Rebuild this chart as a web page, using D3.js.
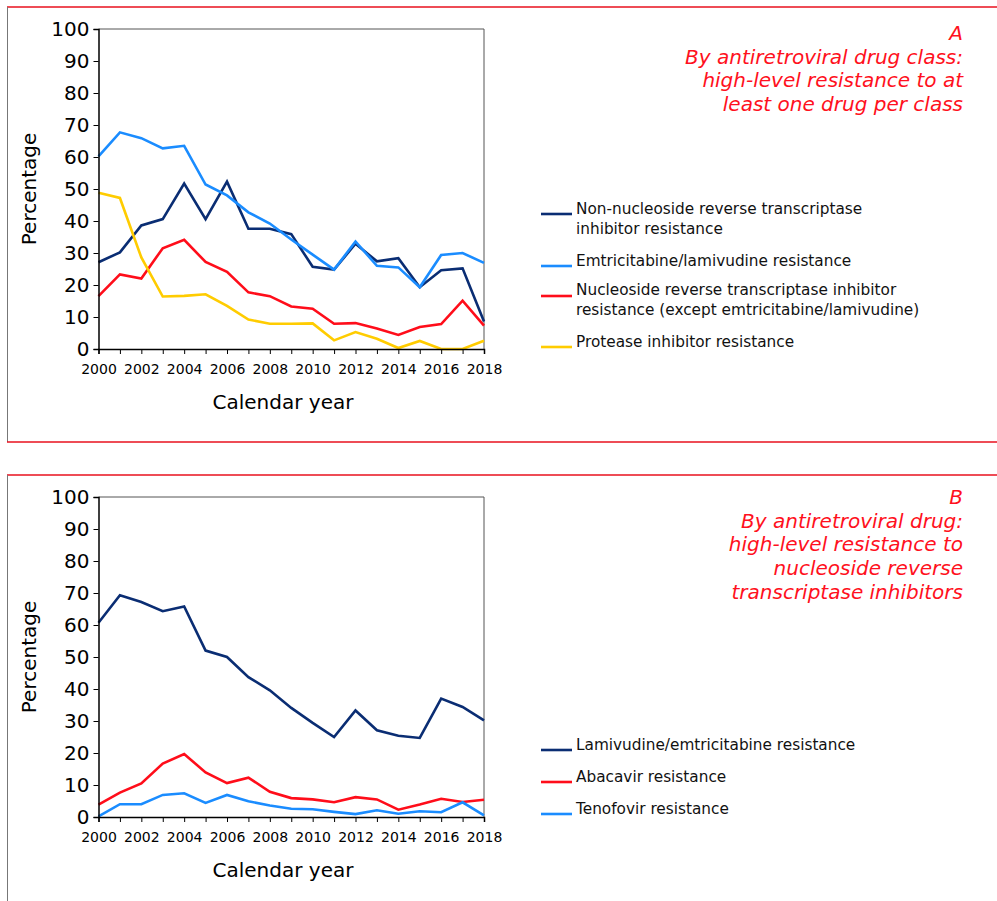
<!DOCTYPE html>
<html><head><meta charset="utf-8">
<script src="https://cdn.jsdelivr.net/npm/d3@7"></script>
<style>body{margin:0;background:#fff;} svg{display:block;font-family:"DejaVu Sans",Verdana,sans-serif;}</style>
</head><body>
<svg id="c" width="997" height="901"></svg>
<script>
const years = d3.range(2000, 2019);
const yTicks = [0,10,20,30,40,50,60,70,80,90,100];
const xTicks = [2000,2002,2004,2006,2008,2010,2012,2014,2016,2018];

// Panel A
const nnrtiA   = [27.1,30.2,38.6,40.6,51.7,40.6,52.3,37.6,37.6,35.9,25.7,24.8,32.9,27.4,28.4,19.3,24.6,25.2,8.6];
const emtricA  = [60.2,67.7,65.9,62.7,63.5,51.4,48.0,42.7,39.2,34.2,29.5,24.8,33.6,26.0,25.5,19.3,29.4,30.0,26.9];
const nrtiA    = [16.5,23.3,22.0,31.5,34.1,27.2,24.1,17.7,16.5,13.3,12.6,7.9,8.1,6.4,4.4,6.9,7.8,15.1,7.3];
const piA      = [48.8,47.2,28.6,16.4,16.6,17.1,13.5,9.2,7.9,7.9,8.0,2.7,5.3,3.2,0.3,2.5,0,0,2.6];
// Panel B
const lamB     = [60.7,69.3,67.2,64.3,65.8,52.0,50.0,43.7,39.6,34.1,29.4,25.0,33.3,27.1,25.4,24.7,37.0,34.4,30.2];
const abacB    = [3.9,7.6,10.5,16.7,19.7,13.9,10.6,12.3,7.9,5.9,5.5,4.6,6.2,5.5,2.3,3.9,5.7,4.7,5.4];
const tenoB    = [0.2,4.0,4.0,6.9,7.4,4.4,6.9,4.9,3.6,2.6,2.4,1.6,0.9,2.1,1.0,1.8,1.5,4.6,0.5];

const labelsA = [["Non-nucleoside reverse transcriptase","inhibitor resistance"],["Emtricitabine/lamivudine resistance"],["Nucleoside reverse transcriptase inhibitor","resistance (except emtricitabine/lamivudine)"],["Protease inhibitor resistance"]];
const labelsB = [["Lamivudine/emtricitabine resistance"],["Abacavir resistance"],["Tenofovir resistance"]];
const titleA = ["A","By antiretroviral drug class:","high-level resistance to at","least one drug per class"];
const titleB = ["B","By antiretroviral drug:","high-level resistance to","nucleoside reverse","transcriptase inhibitors"];

const NAVY="#0a2d73", SKY="#1a8cff", RED="#ff0d1a", YEL="#ffcc00";

const svg = d3.select("#c");

function panel(cfg){
  const g = svg.append("g");
  // frame
  g.append("line").attr("x1",7).attr("x2",997).attr("y1",cfg.frameTop).attr("y2",cfg.frameTop).attr("stroke","#e8101e").attr("stroke-width",1.5);
  g.append("line").attr("x1",7.5).attr("x2",7.5).attr("y1",cfg.frameTop).attr("y2",cfg.frameBot).attr("stroke","#777").attr("stroke-width",1);
  if(cfg.bottomLine) g.append("line").attr("x1",7).attr("x2",997).attr("y1",cfg.frameBot).attr("y2",cfg.frameBot).attr("stroke","#e8101e").attr("stroke-width",1.5);

  const x = d3.scaleLinear().domain([2000,2018]).range([98.5,484]);
  const y = d3.scaleLinear().domain([0,100]).range([cfg.bottom,cfg.top]);
  // plot box top/right
  g.append("path").attr("d",`M${x(2000)},${y(100)}H${x(2018)}V${y(0)}`).attr("fill","none").attr("stroke","#555").attr("stroke-width",1);

  const line = d3.line().x((d,i)=>x(years[i])).y(d=>y(d));
  cfg.series.forEach(s=>{
    g.append("path").datum(s.values).attr("d",line).attr("fill","none").attr("stroke",s.color).attr("stroke-width",2.6).attr("stroke-linejoin","miter");
  });

  const ya = g.append("g").attr("transform",`translate(${x(2000)},0)`)
    .call(d3.axisLeft(y).tickValues(yTicks).tickSize(5).tickPadding(4));
  ya.select(".domain").attr("stroke","#000").attr("stroke-width",1.5);
  ya.selectAll("line").attr("stroke","#000");
  ya.selectAll("text").attr("font-size",20).attr("fill","#000").attr("font-family","DejaVu Sans");
  const xa = g.append("g").attr("transform",`translate(0,${y(0)})`)
    .call(d3.axisBottom(x).tickValues(years).tickSize(5).tickPadding(9).tickFormat(d=> xTicks.includes(d)? d3.format("d")(d):""));
  xa.select(".domain").attr("stroke","#000").attr("stroke-width",1.5);
  xa.selectAll("line").attr("stroke","#000");
  xa.selectAll("text").attr("font-size",14).attr("fill","#000").attr("dy","0.8em").attr("font-family","DejaVu Sans");

  g.append("text").attr("transform",`translate(36,${(y(0)+y(100))/2}) rotate(-90)`).attr("text-anchor","middle")
    .attr("font-size",20).text("Percentage");
  g.append("text").attr("x",283).attr("y",y(0)+60).attr("text-anchor","middle").attr("font-size",20).text("Calendar year");

  // title
  cfg.title.forEach((t,i)=>{
    g.append("text").attr("x",963).attr("y",cfg.titleY+i*23.7).attr("text-anchor","end")
      .attr("font-size",20).attr("font-style","italic").attr("fill","#ff1020").text(t);
  });
  // legend
  cfg.series.forEach((s,i)=>{
    const ly = cfg.legendY[i];
    g.append("line").attr("x1",541).attr("x2",572).attr("y1",ly).attr("y2",ly).attr("stroke",s.color).attr("stroke-width",2.6);
    s.label.forEach((t,j)=>{
      g.append("text").attr("x",576).attr("y",cfg.textY[i]+j*19.5).attr("dominant-baseline","central").attr("font-size",15.3).attr("fill","#111").text(t);
    });
  });
}

panel({frameTop:7, frameBot:442, bottomLine:true, top:29, bottom:349, titleY:40, title:titleA,
  legendY:[214,266,296,347], textY:[209,261,290,342],
  series:[{values:nnrtiA,color:NAVY,label:labelsA[0]},{values:emtricA,color:SKY,label:labelsA[1]},{values:nrtiA,color:RED,label:labelsA[2]},{values:piA,color:YEL,label:labelsA[3]}]});
panel({frameTop:475, frameBot:901, bottomLine:false, top:497, bottom:817, titleY:504, title:titleB,
  legendY:[750,782,814], textY:[745,777,809],
  series:[{values:lamB,color:NAVY,label:labelsB[0]},{values:abacB,color:RED,label:labelsB[1]},{values:tenoB,color:SKY,label:labelsB[2]}]});
</script>
</body></html>
